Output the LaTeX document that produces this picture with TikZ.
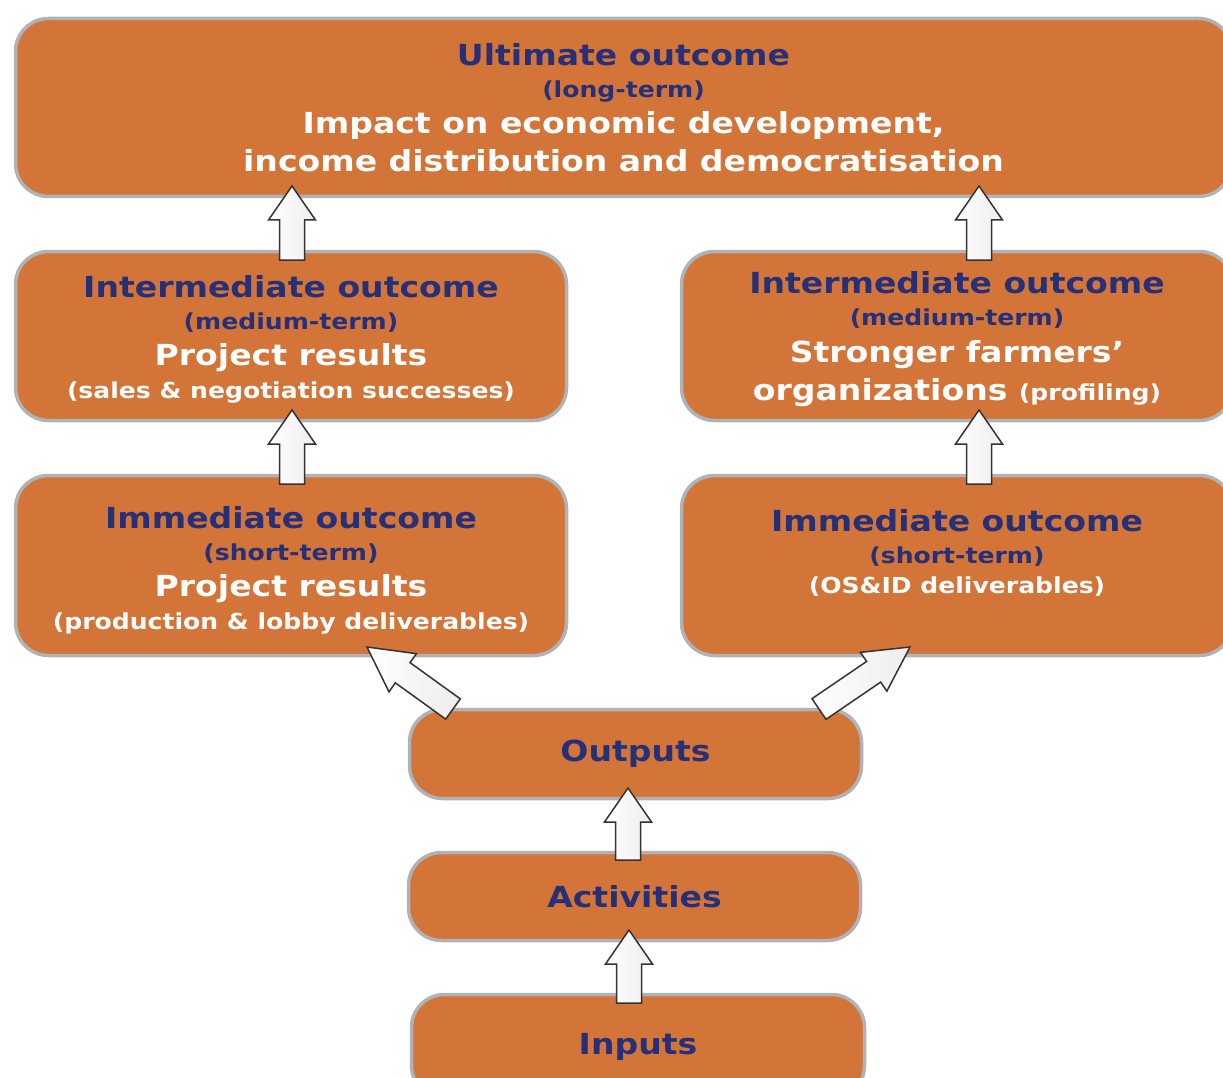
\documentclass[tikz,border=0pt]{standalone}
\usepackage{fontspec}
\setmainfont[FakeStretch=1.14]{DejaVu Sans}
\usetikzlibrary{calc}

\definecolor{boxorange}{RGB}{211,116,56}
\definecolor{boxgray}{RGB}{176,178,182}
\definecolor{navy}{RGB}{38,48,120}

\newcommand{\bigtxt}{\fontsize{29}{38}\selectfont\bfseries}
\newcommand{\smalltxt}{\fontsize{22}{30}\selectfont\bfseries}
\newcommand{\hd}[1]{\textcolor{navy}{\bigtxt #1}}
\newcommand{\term}[1]{\textcolor{navy}{\smalltxt #1}}
\newcommand{\res}[1]{\textcolor{white}{\bigtxt #1}}
\newcommand{\detail}[1]{\textcolor{white}{\smalltxt #1}}

% block arrow from #2 (tail) to #3 (tip), #1 = head length
\newcommand{\blockarrow}[3][34pt]{%
  \coordinate (hb) at ($(#3)!#1!(#2)$);
  \path[blockarrow] ($(#2)!12.5pt!90:(#3)$) -- ($(hb)!12.5pt!90:(#3)$)
    -- ($(hb)!23.5pt!90:(#3)$) -- (#3) -- ($(hb)!23.5pt!-90:(#3)$)
    -- ($(hb)!12.5pt!-90:(#3)$) -- ($(#2)!12.5pt!-90:(#3)$) -- cycle;}

\begin{document}
\begin{tikzpicture}[x=1pt,y=-1pt,
    stage/.style={draw=boxgray,line width=3.5pt,fill=boxorange,rounded corners=33pt,
      inner sep=0pt,align=center,font=\bigtxt},
    stagetext/.style={align=center,font=\bigtxt,inner sep=0pt},
    blockarrow/.style={draw=black!80,line width=1.5pt,left color=white,right color=black!7,
      line join=miter}]
  \useasboundingbox (0,0) rectangle (1223,1078);
  \clip (0,0) rectangle (1223,1078);

  % boxes
  \node[stage,minimum width=1216pt,minimum height=178pt] (ultimate) at (623.5,107.5)
    {\hd{Ultimate outcome}\\[-6pt] \term{(long-term)}\\[-2pt]
     \res{Impact on economic development,}\\ \res{income distribution and democratisation}};
  \node[stage,minimum width=551pt,minimum height=169pt] (interL) at (291,336) {};
  \node[stage,minimum width=551pt,minimum height=169pt] (interR) at (957,336) {};
  \node[stage,minimum width=551pt,minimum height=180pt] (immL) at (291,565.5) {};
  \node[stage,minimum width=551pt,minimum height=180pt] (immR) at (957,565.5) {};
  \node[stage,minimum width=452pt,minimum height=89pt] (outputs) at (635.5,754) {\hd{Outputs}};
  \node[stage,minimum width=452pt,minimum height=88pt] (activities) at (634.5,896.5) {\hd{Activities}};
  \node[stage,minimum width=453pt,minimum height=104pt] (inputs) at (638,1046.5) {\hd{Inputs}};

  % box texts
  \node[stagetext] (interLtext) at ($(interL.center)+(0,3.5)$)
    {\hd{Intermediate outcome}\\[-6pt] \term{(medium-term)}\\[-2pt]
     \res{Project results}\\[-5pt] \detail{(sales \& negotiation successes)}};
  \node[stagetext] (interRtext) at ($(interR.center)+(0,3)$)
    {\hd{Intermediate outcome}\\[-6pt] \term{(medium-term)}\\[-1pt]
     \res{Stronger farmers’}\\ \res{organizations} \detail{(profiling)}};
  \node[stagetext] (immLtext) at ($(immL.center)+(0,4.5)$)
    {\hd{Immediate outcome}\\[-6pt] \term{(short-term)}\\[-2pt]
     \res{Project results}\\[-5pt] \detail{(production \& lobby deliverables)}};
  \node[stagetext] (immRtext) at ($(immR.center)+(0,-13)$)
    {\hd{Immediate outcome}\\[-6pt] \term{(short-term)}\\[-8pt]
     \detail{(OS\&ID deliverables)}};

  % arrows
  \coordinate (a1s) at (292,260);  \coordinate (a1t) at (292,186);
  \coordinate (a2s) at (292,484);  \coordinate (a2t) at (292,410);
  \coordinate (a3s) at (979,260);  \coordinate (a3t) at (979,186);
  \coordinate (a4s) at (979,484);  \coordinate (a4t) at (979,410);
  \coordinate (a5s) at (453,709);  \coordinate (a5t) at (367,647);
  \coordinate (a6s) at (819,709);  \coordinate (a6t) at (910,647);
  \coordinate (a7s) at (628,860);  \coordinate (a7t) at (628,788);
  \coordinate (a8s) at (629,1003); \coordinate (a8t) at (629,930);
  \blockarrow{a1s}{a1t}
  \blockarrow{a2s}{a2t}
  \blockarrow{a3s}{a3t}
  \blockarrow{a4s}{a4t}
  \blockarrow[44pt]{a5s}{a5t}
  \blockarrow[44pt]{a6s}{a6t}
  \blockarrow{a7s}{a7t}
  \blockarrow{a8s}{a8t}
\end{tikzpicture}
\end{document}
